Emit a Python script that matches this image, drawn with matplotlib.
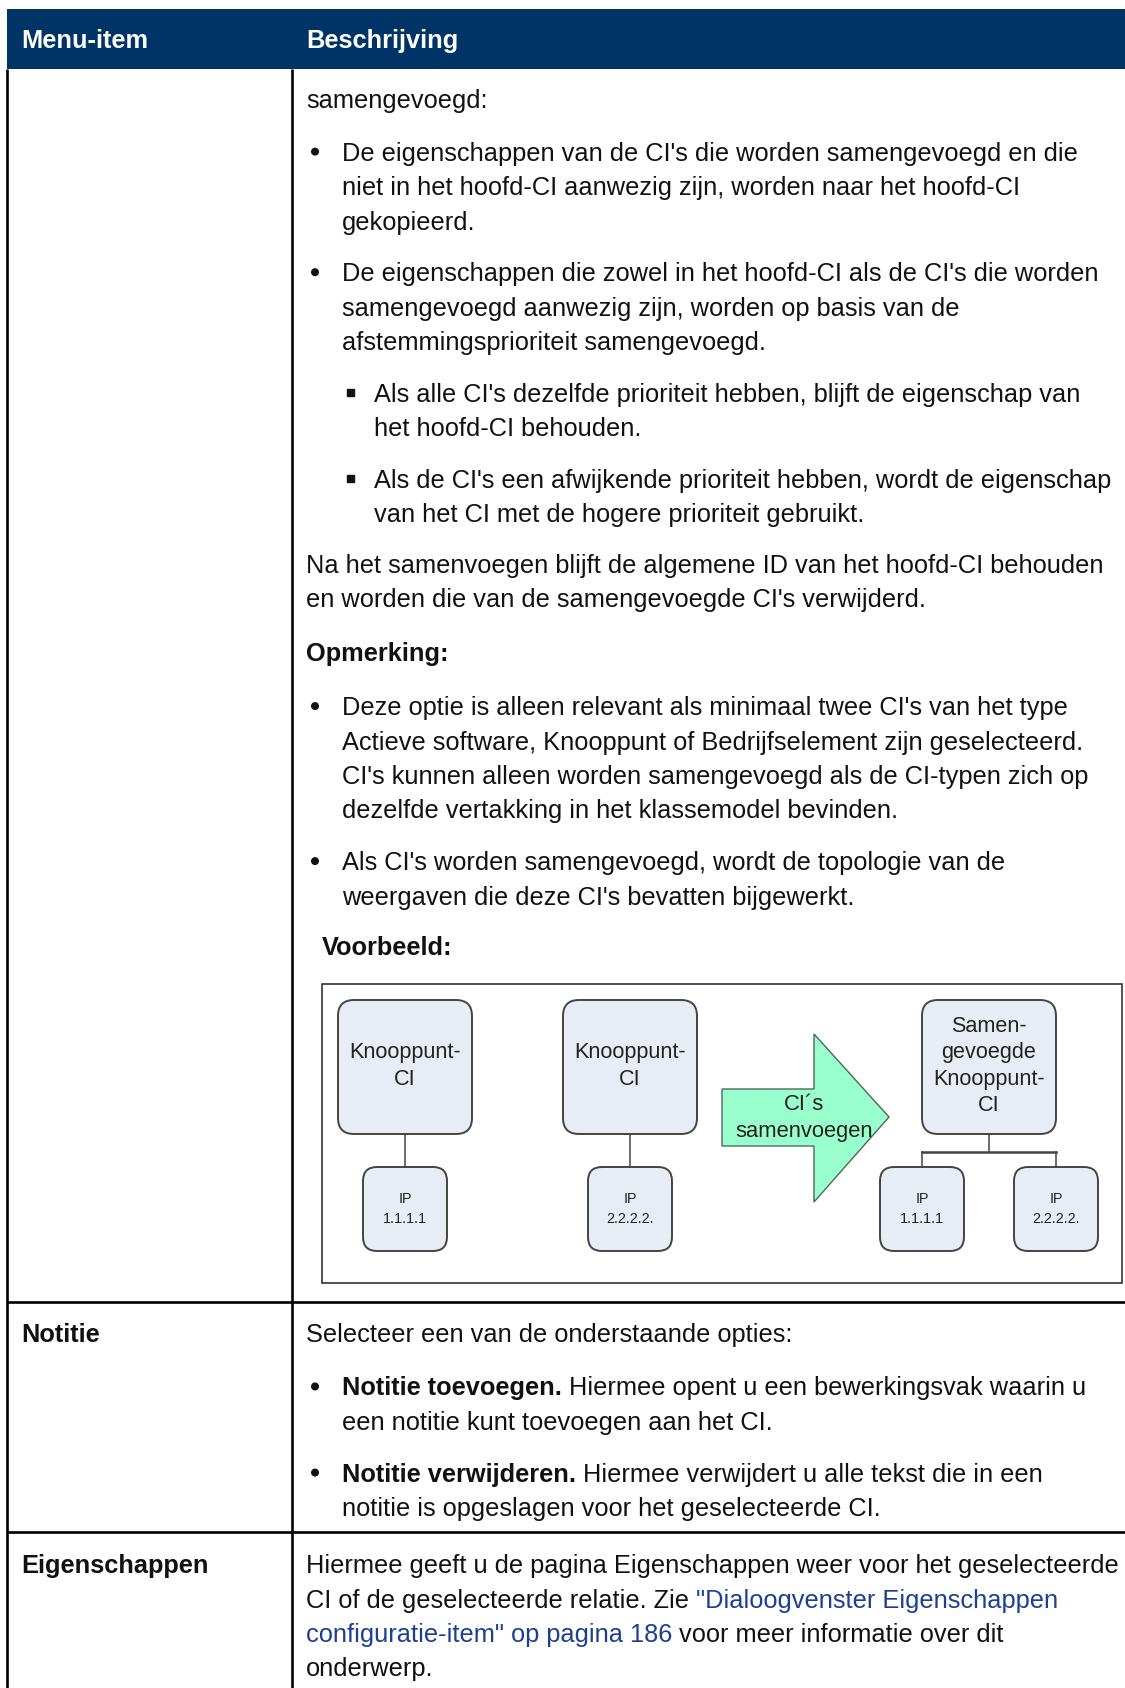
import matplotlib
matplotlib.use("Agg")
import matplotlib.pyplot as plt
from matplotlib.patches import Rectangle, FancyBboxPatch, Polygon, Circle

# ---------------- content ----------------
header_cols = ["Menu-item", "Beschrijving"]
row_items = ["", "Notitie", "Eigenschappen"]

merge_intro = ["samengevoegd:"]
merge_bullets = [
    ["De eigenschappen van de CI's die worden samengevoegd en die",
     "niet in het hoofd-CI aanwezig zijn, worden naar het hoofd-CI",
     "gekopieerd."],
    ["De eigenschappen die zowel in het hoofd-CI als de CI's die worden",
     "samengevoegd aanwezig zijn, worden op basis van de",
     "afstemmingsprioriteit samengevoegd."],
]
merge_sub = [
    ["Als alle CI's dezelfde prioriteit hebben, blijft de eigenschap van",
     "het hoofd-CI behouden."],
    ["Als de CI's een afwijkende prioriteit hebben, wordt de eigenschap",
     "van het CI met de hogere prioriteit gebruikt."],
]
merge_after = ["Na het samenvoegen blijft de algemene ID van het hoofd-CI behouden",
               "en worden die van de samengevoegde CI's verwijderd."]
note_title = "Opmerking:"
note_bullets = [
    ["Deze optie is alleen relevant als minimaal twee CI's van het type",
     "Actieve software, Knooppunt of Bedrijfselement zijn geselecteerd.",
     "CI's kunnen alleen worden samengevoegd als de CI-typen zich op",
     "dezelfde vertakking in het klassemodel bevinden."],
    ["Als CI's worden samengevoegd, wordt de topologie van de",
     "weergaven die deze CI's bevatten bijgewerkt."],
]
example_title = "Voorbeeld:"

diagram_nodes = [["Knooppunt-", "CI"], ["Knooppunt-", "CI"],
                 ["Samen-", "gevoegde", "Knooppunt-", "CI"]]
diagram_ips = [["IP", "1.1.1.1"], ["IP", "2.2.2.2."], ["IP", "1.1.1.1"], ["IP", "2.2.2.2."]]
arrow_label = ["CI\u00b4s", "samenvoegen"]

notitie_intro = ["Selecteer een van de onderstaande opties:"]
notitie_bullets = [
    [[("Notitie toevoegen.", "b"), ("Hiermee opent u een bewerkingsvak waarin u", "n")],
     [("een notitie kunt toevoegen aan het CI.", "n")]],
    [[("Notitie verwijderen.", "b"), ("Hiermee verwijdert u alle tekst die in een", "n")],
     [("notitie is opgeslagen voor het geselecteerde CI.", "n")]],
]
eigen_lines = [
    [("Hiermee geeft u de pagina Eigenschappen weer voor het geselecteerde", "n")],
    [("CI of de geselecteerde relatie. Zie", "n"), ("\"Dialoogvenster Eigenschappen", "l")],
    [("configuratie-item\" op pagina 186", "l"), ("voor meer informatie over dit", "n")],
    [("onderwerp.", "n")],
]

# ---------------- setup ----------------
W, H = 1125, 1688
S = 1125 / 1045.0
fig = plt.figure(figsize=(W / 100, H / 100), dpi=100)
ax = fig.add_axes([0, 0, 1, 1])
ax.set_xlim(0, W)
ax.set_ylim(H, 0)
ax.axis("off")
FONT = "Liberation Sans"
NAVY = "#003366"
LINK = "#1c3f94"
TXT = "#111111"
r = fig.canvas.get_renderer()


def width(s, fs, weight="normal"):
    t = ax.text(0, 0, s, fontsize=fs, family=FONT, weight=weight)
    w = t.get_window_extent(renderer=r).width
    t.remove()
    return w


def fit(s, target, weight="normal"):
    return 18 * target / width(s, 18, weight)


FS = fit("Hiermee geeft u de pagina Eigenschappen weer voor het geselecteerde", 809)
SP = {w: width("a a", FS, w) - width("aa", FS, w) for w in ("normal", "bold")}
LS = 32 * S
BOFF = 11


def Y(c):
    return c * S + BOFF


def runs_line(x, y, runs, fs=FS):
    for txt, sty in runs:
        weight = "bold" if sty == "b" else "normal"
        color = LINK if sty == "l" else TXT
        ax.text(x, y, txt, fontsize=fs, family=FONT, weight=weight, color=color,
                va="baseline", ha="left")
        x += width(txt, fs, weight) + SP[weight]


def as_runs(line, sty="n"):
    return line if isinstance(line, list) else [(line, sty)]


def para(x, c, lines, sty="n", bullet=None):
    y = Y(c)
    if bullet == "dot":
        ax.add_patch(Circle((315, y - 9), 3.3, color=TXT))
    elif bullet == "sq":
        ax.add_patch(Rectangle((347, y - 12.5), 6.5, 6.5, color=TXT))
    for i, ln in enumerate(lines):
        runs_line(x, y + i * LS, as_runs(ln, sty))


X_TXT = 306
X_B = 342
X_SB = 374
X_COL1 = 21.5

# ---------------- table frame ----------------
ax.add_patch(Rectangle((7, 9), W - 7, 60, color=NAVY, lw=0))
ax.text(X_COL1, 48, header_cols[0], fontsize=FS, family=FONT, weight="bold",
        color="white", va="baseline")
ax.text(X_TXT, 48, header_cols[1], fontsize=FS, family=FONT, weight="bold",
        color="white", va="baseline")
LW = 1.9
ax.plot([7, 7], [69, H], color="black", lw=LW, solid_capstyle="butt")
ax.plot([292, 292], [69, H], color="black", lw=LW, solid_capstyle="butt")
for yy in (1302, 1532):
    ax.plot([7, W], [yy, yy], color="black", lw=LW, solid_capstyle="butt")

# ---------------- row 1 ----------------
para(X_TXT, 90, merge_intro)
para(X_B, 139, merge_bullets[0], bullet="dot")
para(X_B, 251, merge_bullets[1], bullet="dot")
para(X_SB, 363, merge_sub[0], bullet="sq")
para(X_SB, 443, merge_sub[1], bullet="sq")
para(X_TXT, 522, merge_after)
para(X_TXT, 604, [note_title], sty="b")
para(X_B, 654, note_bullets[0], bullet="dot")
para(X_B, 798, note_bullets[1], bullet="dot")
para(322, 877, [example_title], sty="b")

# ---------------- diagram ----------------
ax.add_patch(Rectangle((322, 984), 1122 - 322, 1283 - 984, fill=False,
                       edgecolor="#333333", lw=1.2))
NODE_FILL = "#e8ecf5"
EDGE = "#444444"
FS_NODE = fit("Knooppunt-", 112)
FS_IP = fit("1.1.1.1", 44)
FS_ARW = fit("samenvoegen", 138)

node_x = [338, 563, 922]
for nx, lines in zip(node_x, diagram_nodes):
    ax.add_patch(FancyBboxPatch((nx, 1000), 134, 134,
                                boxstyle="round,pad=0,rounding_size=16",
                                facecolor=NODE_FILL, edgecolor=EDGE, lw=1.4))
    n = len(lines)
    for i, t in enumerate(lines):
        yy = 1066 + (i - (n - 1) / 2) * 26.5
        ax.text(nx + 67, yy, t, fontsize=FS_NODE, family=FONT, color="#222222",
                ha="center", va="center")

ip_x = [363, 588, 880, 1014]
for ix, lines in zip(ip_x, diagram_ips):
    ax.add_patch(FancyBboxPatch((ix, 1167), 84, 84,
                                boxstyle="round,pad=0,rounding_size=14",
                                facecolor=NODE_FILL, edgecolor=EDGE, lw=1.4))
    for i, t in enumerate(lines):
        ax.text(ix + 42, 1199 + i * 20, t, fontsize=FS_IP, family=FONT,
                color="#222222", ha="center", va="center")

# connectors
ax.plot([405, 405], [1134, 1167], color=EDGE, lw=1.1)
ax.plot([630, 630], [1134, 1167], color=EDGE, lw=1.1)
ax.plot([989, 989], [1134, 1152], color=EDGE, lw=1.1)
ax.plot([922, 1056], [1152, 1152], color=EDGE, lw=1.8)
ax.plot([922, 922], [1152, 1167], color=EDGE, lw=1.1)
ax.plot([1056, 1056], [1152, 1167], color=EDGE, lw=1.1)

# arrow
ax.add_patch(Polygon([(722, 1089), (814, 1089), (814, 1034), (889, 1117),
                      (814, 1202), (814, 1146), (722, 1146)], closed=True,
                     facecolor="#99ffcc", edgecolor="#4a6a5a", lw=1.0))
ax.text(804, 1105, arrow_label[0], fontsize=FS_ARW, family=FONT, color="#222222",
        ha="center", va="center")
ax.text(804, 1132, arrow_label[1], fontsize=FS_ARW, family=FONT, color="#222222",
        ha="center", va="center")

# ---------------- row 2 ----------------
ax.text(X_COL1, Y(1236), row_items[1], fontsize=FS, family=FONT, weight="bold",
        color=TXT, va="baseline")
para(X_TXT, 1236, notitie_intro)
para(X_B, 1286, notitie_bullets[0], bullet="dot")
para(X_B, 1366, notitie_bullets[1], bullet="dot")

# ---------------- row 3 ----------------
ax.text(X_COL1, Y(1451), row_items[2], fontsize=FS, family=FONT, weight="bold",
        color=TXT, va="baseline")
para(X_TXT, 1451, eigen_lines)

fig.savefig("out.png", dpi=100)
